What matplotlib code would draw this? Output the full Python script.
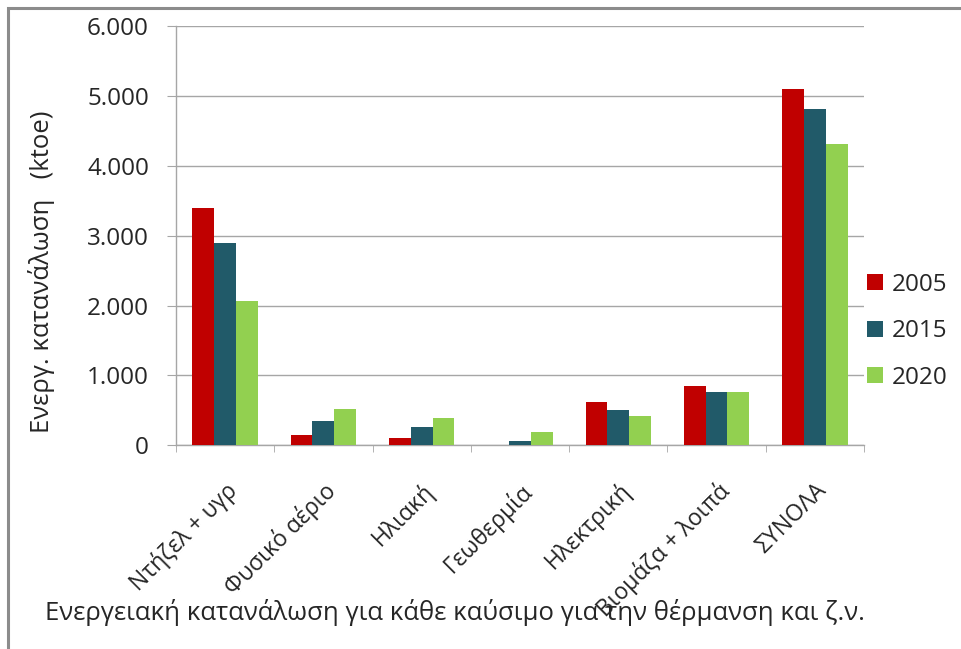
import matplotlib.pyplot as plt
import numpy as np
from matplotlib.patches import Rectangle
from matplotlib.ticker import FixedLocator, FuncFormatter

plt.rcParams['font.family'] = ['Open Sans', 'DejaVu Sans']

categories = ["Ντήζελ + υγρ", "Φυσικό αέριο", "Ηλιακή", "Γεωθερμία",
              "Ηλεκτρική", "Βιομάζα + λοιπά", "ΣΥΝΟΛΑ"]
years = ["2005", "2015", "2020"]
vals_2005 = [3400, 150, 100, 0, 620, 850, 5100]
vals_2015 = [2900, 350, 260, 60, 500, 760, 4810]
vals_2020 = [2070, 520, 390, 190, 410, 760, 4310]
colors = ["#C00000", "#215A69", "#92D050"]

fig = plt.figure(figsize=(9.61, 6.49), dpi=100)
ax = fig.add_axes([0.1831, 0.3143, 0.7159, 0.6449])

# outer chart frame (only top and left edges visible)
fig.patches.append(Rectangle((8 / 961, -0.05), 1.2, 1 - 8 / 649 + 0.05,
                             transform=fig.transFigure, fill=False,
                             edgecolor="#8c8c8c", linewidth=2.2))

x = np.arange(len(categories))
w = 0.222
for i, (vals, yr) in enumerate(zip([vals_2005, vals_2015, vals_2020], years)):
    ax.bar(x + (i - 1) * w, vals, width=w, color=colors[i], label=yr, zorder=3)

ax.set_xlim(-0.5, len(categories) - 0.5)
ax.set_ylim(0, 6000)
ax.set_yticks(range(0, 6001, 1000))
ax.yaxis.set_major_formatter(FuncFormatter(
    lambda v, p: "0" if v == 0 else f"{int(v):,}".replace(",", ".")))
ax.grid(axis="y", color="#a6a6a6", linewidth=1, zorder=0)

for s in ["top", "right"]:
    ax.spines[s].set_visible(False)
for s in ["left", "bottom"]:
    ax.spines[s].set_color("#a6a6a6")
    ax.spines[s].set_linewidth(1)

ax.set_xticks(x)
ax.set_xticklabels(categories, rotation=45, ha="right", va="top",
                   rotation_mode="anchor", fontsize=16.5, color="#262626")
ax.xaxis.set_minor_locator(FixedLocator(np.arange(-0.5, len(categories), 1)))
ax.tick_params(axis="x", which="major", length=0, pad=24)
ax.tick_params(axis="x", which="minor", length=5, color="#a6a6a6")
ax.tick_params(axis="y", length=6.5, color="#a6a6a6", labelsize=17.5,
               labelcolor="#262626", pad=13)

ax.set_ylabel("Ενεργ. κατανάλωση   (ktoe)", fontsize=18.5, color="#262626")
ax.yaxis.set_label_coords(-0.176, 0.413)
fig.text(0.4735, 0.057, "Ενεργειακή κατανάλωση για κάθε καύσιμο για την θέρμανση και ζ.ν.",
         ha="center", va="center", fontsize=18.5, color="#262626")

ax.legend(loc="center left", bbox_to_anchor=(0.973, 0.272), frameon=False,
          fontsize=17.5, handlelength=0.65, handleheight=0.65,
          handletextpad=0.35, labelspacing=0.92, labelcolor="#262626")

fig.savefig("out.png", dpi=100)
